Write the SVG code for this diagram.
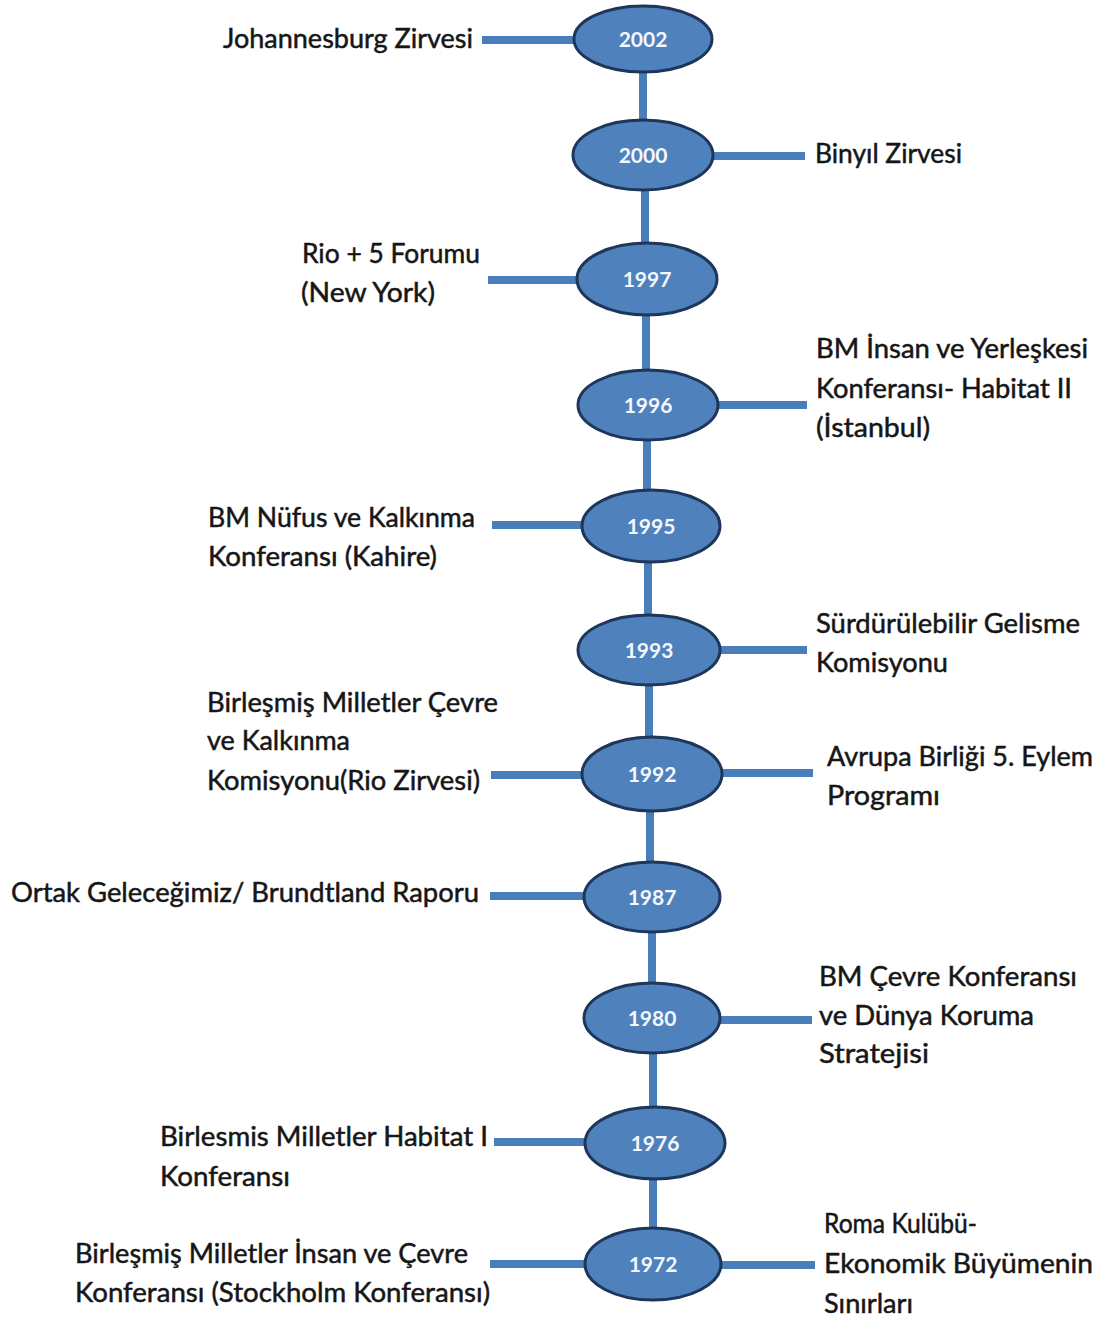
<svg xmlns="http://www.w3.org/2000/svg" width="1101" height="1319" viewBox="0 0 1101 1319">
<style>
.bg{fill:#ffffff}
.spine{stroke:#4a7ebb;stroke-width:8;fill:none}
.arm{stroke:#4a7ebb;stroke-width:8;fill:none}
.node ellipse{fill:#4f81bd;stroke:#1d3659;stroke-width:3}
.yr{font-family:Lato,"Liberation Sans",sans-serif;font-weight:bold;font-size:21px;fill:#f4f7fc;text-anchor:middle}
.lb{font-family:Lato,"Noto Sans","Liberation Sans",sans-serif;font-size:27px;fill:#161616;stroke:#161616;stroke-width:0.5}
</style>
<rect class="bg" x="0" y="0" width="1101" height="1319"/>
<g id="connectors">
<line class="spine" x1="643" y1="39" x2="643" y2="155"/>
<line class="spine" x1="645" y1="155" x2="645" y2="279"/>
<line class="spine" x1="646" y1="279" x2="646" y2="405"/>
<line class="spine" x1="647" y1="405" x2="647" y2="526"/>
<line class="spine" x1="648" y1="526" x2="648" y2="650"/>
<line class="spine" x1="649" y1="650" x2="649" y2="774"/>
<line class="spine" x1="650" y1="774" x2="650" y2="897"/>
<line class="spine" x1="652" y1="897" x2="652" y2="1018"/>
<line class="spine" x1="653" y1="1018" x2="653" y2="1143"/>
<line class="spine" x1="653" y1="1143" x2="653" y2="1264"/>
<line class="arm" x1="482" y1="40" x2="643" y2="40"/>
<line class="arm" x1="643" y1="156" x2="805" y2="156"/>
<line class="arm" x1="488" y1="280" x2="647" y2="280"/>
<line class="arm" x1="648" y1="405" x2="807" y2="405"/>
<line class="arm" x1="492" y1="525" x2="651" y2="525"/>
<line class="arm" x1="649" y1="650" x2="807" y2="650"/>
<line class="arm" x1="491" y1="775" x2="652" y2="775"/>
<line class="arm" x1="652" y1="773" x2="813" y2="773"/>
<line class="arm" x1="490" y1="896" x2="652" y2="896"/>
<line class="arm" x1="652" y1="1020" x2="812" y2="1020"/>
<line class="arm" x1="494" y1="1142" x2="655" y2="1142"/>
<line class="arm" x1="490" y1="1264" x2="653" y2="1264"/>
<line class="arm" x1="653" y1="1265" x2="815" y2="1265"/>
</g>
<g id="n2002" class="node"><ellipse cx="643" cy="39" rx="69" ry="33"/><text class="yr" x="643" y="47">2002</text></g>
<g id="n2000" class="node"><ellipse cx="643" cy="155" rx="70" ry="35"/><text class="yr" x="643" y="163">2000</text></g>
<g id="n1997" class="node"><ellipse cx="647" cy="279" rx="70" ry="36"/><text class="yr" x="647" y="287">1997</text></g>
<g id="n1996" class="node"><ellipse cx="648" cy="405" rx="70" ry="35"/><text class="yr" x="648" y="413">1996</text></g>
<g id="n1995" class="node"><ellipse cx="651" cy="526" rx="69" ry="36"/><text class="yr" x="651" y="534">1995</text></g>
<g id="n1993" class="node"><ellipse cx="649" cy="650" rx="71" ry="35"/><text class="yr" x="649" y="658">1993</text></g>
<g id="n1992" class="node"><ellipse cx="652" cy="774" rx="70" ry="37"/><text class="yr" x="652" y="782">1992</text></g>
<g id="n1987" class="node"><ellipse cx="652" cy="897" rx="68" ry="35"/><text class="yr" x="652" y="905">1987</text></g>
<g id="n1980" class="node"><ellipse cx="652" cy="1018" rx="68" ry="35"/><text class="yr" x="652" y="1026">1980</text></g>
<g id="n1976" class="node"><ellipse cx="655" cy="1143" rx="70" ry="36"/><text class="yr" x="655" y="1151">1976</text></g>
<g id="n1972" class="node"><ellipse cx="653" cy="1264" rx="68" ry="36"/><text class="yr" x="653" y="1272">1972</text></g>
<g id="l2002"><text class="lb" x="223" y="48" textLength="250" lengthAdjust="spacingAndGlyphs">Johannesburg Zirvesi</text></g>
<g id="l2000"><text class="lb" x="815" y="163" textLength="147" lengthAdjust="spacingAndGlyphs">Binyıl Zirvesi</text></g>
<g id="l1997"><text class="lb" x="302" y="263" textLength="178" lengthAdjust="spacingAndGlyphs">Rio + 5 Forumu</text><text class="lb" x="301" y="302" textLength="134" lengthAdjust="spacingAndGlyphs">(New York)</text></g>
<g id="l1996"><text class="lb" x="816" y="358" textLength="272" lengthAdjust="spacingAndGlyphs">BM İnsan ve Yerleşkesi</text><text class="lb" x="816" y="398" textLength="256" lengthAdjust="spacingAndGlyphs">Konferansı- Habitat II</text><text class="lb" x="816" y="437" textLength="114" lengthAdjust="spacingAndGlyphs">(İstanbul)</text></g>
<g id="l1995"><text class="lb" x="208" y="527" textLength="267" lengthAdjust="spacingAndGlyphs">BM Nüfus ve Kalkınma</text><text class="lb" x="208" y="566" textLength="229" lengthAdjust="spacingAndGlyphs">Konferansı (Kahire)</text></g>
<g id="l1993"><text class="lb" x="816" y="633" textLength="264" lengthAdjust="spacingAndGlyphs">Sürdürülebilir Gelisme</text><text class="lb" x="816" y="672" textLength="132" lengthAdjust="spacingAndGlyphs">Komisyonu</text></g>
<g id="l1992a"><text class="lb" x="207" y="712" textLength="291" lengthAdjust="spacingAndGlyphs">Birleşmiş Milletler Çevre</text><text class="lb" x="207" y="750" textLength="143" lengthAdjust="spacingAndGlyphs">ve Kalkınma</text><text class="lb" x="207" y="790" textLength="273" lengthAdjust="spacingAndGlyphs">Komisyonu(Rio Zirvesi)</text></g>
<g id="l1992b"><text class="lb" x="827" y="766" textLength="266" lengthAdjust="spacingAndGlyphs">Avrupa Birliği 5. Eylem</text><text class="lb" x="827" y="805" textLength="113" lengthAdjust="spacingAndGlyphs">Programı</text></g>
<g id="l1987"><text class="lb" x="11" y="902" textLength="468" lengthAdjust="spacingAndGlyphs">Ortak Geleceğimiz/ Brundtland Raporu</text></g>
<g id="l1980"><text class="lb" x="819" y="986" textLength="258" lengthAdjust="spacingAndGlyphs">BM Çevre Konferansı</text><text class="lb" x="819" y="1025" textLength="215" lengthAdjust="spacingAndGlyphs">ve Dünya Koruma</text><text class="lb" x="819" y="1063" textLength="110" lengthAdjust="spacingAndGlyphs">Stratejisi</text></g>
<g id="l1976"><text class="lb" x="160" y="1146" textLength="328" lengthAdjust="spacingAndGlyphs">Birlesmis Milletler Habitat I</text><text class="lb" x="160" y="1186" textLength="130" lengthAdjust="spacingAndGlyphs">Konferansı</text></g>
<g id="l1972a"><text class="lb" x="75" y="1263" textLength="393" lengthAdjust="spacingAndGlyphs">Birleşmiş Milletler İnsan ve Çevre</text><text class="lb" x="75" y="1302" textLength="415" lengthAdjust="spacingAndGlyphs">Konferansı (Stockholm Konferansı)</text></g>
<g id="l1972b"><text class="lb" x="824" y="1233" textLength="153" lengthAdjust="spacingAndGlyphs">Roma Kulübü-</text><text class="lb" x="824" y="1273" textLength="269" lengthAdjust="spacingAndGlyphs">Ekonomik Büyümenin</text><text class="lb" x="824" y="1313" textLength="89" lengthAdjust="spacingAndGlyphs">Sınırları</text></g>
</svg>
